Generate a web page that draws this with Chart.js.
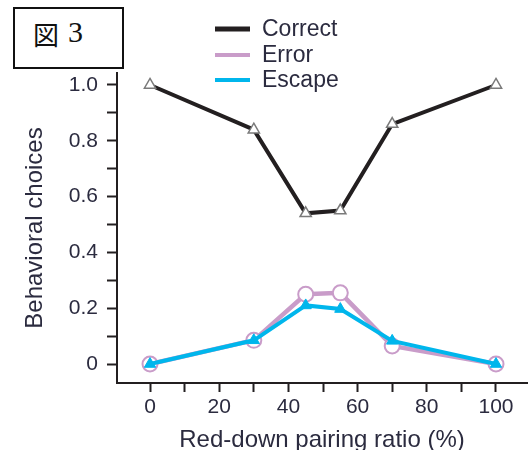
<!DOCTYPE html>
<html>
<head>
<meta charset="utf-8">
<script src="https://cdn.jsdelivr.net/npm/chart.js@4/dist/chart.umd.min.js"></script>
<style>
  html, body { margin: 0; padding: 0; background: #fff; }
  #wrap { position: relative; width: 528px; height: 450px; }
  #c { position: absolute; left: 0; top: 0; }
  #fig { position: absolute; left: 13px; top: 7px; width: 107px; height: 58px;
         border: 2px solid #111; background: #fff; }
  #fig .k { position: absolute; left: 18px; top: 12px; font: 26px "Noto Sans CJK JP", sans-serif; line-height: 26px; color: #111; }
  #fig .n { position: absolute; left: 53px; top: 8px; font: 30px "Liberation Serif", serif; line-height: 30px; color: #111; }
</style>
</head>
<body>
<div id="wrap">
  <canvas id="c" width="528" height="450"></canvas>
  <div id="fig"><span class="k">図</span><span class="n">3</span></div>
</div>
<script>
// ---- data ----
const ratios = [0, 30, 45, 55, 70, 100];
const correctValues = [1.0, 0.84, 0.54, 0.55, 0.86, 1.0];
const errorValues = [0.0, 0.085, 0.25, 0.255, 0.065, 0.0];
const escapeValues = [0.0, 0.085, 0.21, 0.197, 0.083, 0.0];
const seriesNames = ['Correct', 'Error', 'Escape'];
const yMajorTicks = [0, 0.2, 0.4, 0.6, 0.8, 1.0];
const yTickLabels = ['0', '0.2', '0.4', '0.6', '0.8', '1.0'];
const yMinorTicks = [0.1, 0.3, 0.5, 0.7, 0.9];
const xMajorTicks = [0, 20, 40, 60, 80, 100];
const xTickLabels = ['0', '20', '40', '60', '80', '100'];
const xMinorTicks = [10, 30, 50, 70, 90];
const xTitle = 'Red-down pairing ratio (%)';
const yTitle = 'Behavioral choices';

const colors = { Correct: '#231f20', Error: '#c99cc9', Escape: '#00b6ec' };
const textColor = '#2b2b3f';
const axisColor = '#231f20';

const toPts = vals => ratios.map((r, i) => ({ x: r, y: vals[i] }));

function labelFor(value, majors, labels) {
  for (let i = 0; i < majors.length; i++) {
    if (Math.abs(majors[i] - value) < 1e-9) return labels[i];
  }
  return '';
}

const legendPlugin = {
  id: 'customLegend',
  afterDraw(chart) {
    const ctx = chart.ctx;
    ctx.save();
    ctx.font = '23px "Liberation Sans", Arial, sans-serif';
    ctx.textBaseline = 'middle';
    ctx.textAlign = 'left';
    const rows = [29, 55, 80];
    seriesNames.forEach((name, i) => {
      const y = rows[i];
      ctx.strokeStyle = colors[name];
      ctx.lineWidth = name === 'Correct' ? 5 : 4;
      ctx.beginPath();
      ctx.moveTo(215, y);
      ctx.lineTo(250, y);
      ctx.stroke();
      ctx.fillStyle = textColor;
      ctx.fillText(name, 262, y + 1);
    });
    ctx.restore();
  }
};

new Chart(document.getElementById('c'), {
  type: 'line',
  data: {
    datasets: [
      {
        label: seriesNames[0], data: toPts(correctValues), order: 0,
        borderColor: colors.Correct, borderWidth: 4,
        pointStyle: 'triangle', pointRadius: 6.5, pointBorderWidth: 1.5,
        pointBorderColor: '#7a7a7a', pointBackgroundColor: '#ffffff'
      },
      {
        label: seriesNames[1], data: toPts(errorValues), order: 2,
        borderColor: colors.Error, borderWidth: 4.5,
        pointStyle: 'circle', pointRadius: 7.5, pointBorderWidth: 2,
        pointBorderColor: colors.Error, pointBackgroundColor: '#ffffff'
      },
      {
        label: seriesNames[2], data: toPts(escapeValues), order: 1,
        borderColor: colors.Escape, borderWidth: 4,
        pointStyle: 'triangle', pointRadius: 6.5, pointBorderWidth: 1,
        pointBorderColor: colors.Escape, pointBackgroundColor: colors.Escape
      }
    ]
  },
  options: {
    responsive: false,
    animation: false,
    devicePixelRatio: 1,
    layout: { autoPadding: false, padding: { top: 73, right: 1, left: 0, bottom: 0 } },
    plugins: { legend: { display: false }, tooltip: { enabled: false } },
    elements: { line: { tension: 0 } },
    scales: {
      x: {
        type: 'linear', min: -9.54, max: 108.96,
        afterFit(s) { s.height = 67; s.paddingLeft = 0; s.paddingRight = 0; },
        afterBuildTicks(s) {
          s.ticks = xMajorTicks.concat(xMinorTicks).sort((a, b) => a - b).map(v => ({ value: v }));
        },
        ticks: {
          autoSkip: false, maxRotation: 0, padding: 3, color: textColor,
          font: { family: '"Liberation Sans", Arial, sans-serif', size: 21 },
          callback: v => labelFor(v, xMajorTicks, xTickLabels)
        },
        grid: { drawOnChartArea: false, drawTicks: true, tickLength: 9, tickWidth: 2, tickColor: axisColor },
        border: { display: true, color: axisColor, width: 2 },
        title: {
          display: true, text: xTitle, color: textColor,
          font: { family: '"Liberation Sans", Arial, sans-serif', size: 24, lineHeight: 0.8 },
          padding: { top: 6, bottom: 0 }
        }
      },
      y: {
        type: 'linear', min: -0.068, max: 1.043,
        afterFit(s) { s.width = 117; s.paddingTop = 0; s.paddingBottom = 0; },
        afterBuildTicks(s) {
          s.ticks = yMajorTicks.concat(yMinorTicks).sort((a, b) => a - b).map(v => ({ value: v }));
        },
        ticks: {
          autoSkip: false, padding: 9, color: textColor,
          font: { family: '"Liberation Sans", Arial, sans-serif', size: 21 },
          callback: v => labelFor(v, yMajorTicks, yTickLabels)
        },
        grid: { drawOnChartArea: false, drawTicks: true, tickLength: 10, tickWidth: 2, tickColor: axisColor },
        border: { display: true, color: axisColor, width: 2 },
        title: {
          display: true, text: yTitle, color: textColor,
          font: { family: '"Liberation Sans", Arial, sans-serif', size: 24, lineHeight: 1.2 },
          padding: { top: 21, bottom: 0 }
        }
      }
    }
  },
  plugins: [legendPlugin]
});
</script>
</body>
</html>
